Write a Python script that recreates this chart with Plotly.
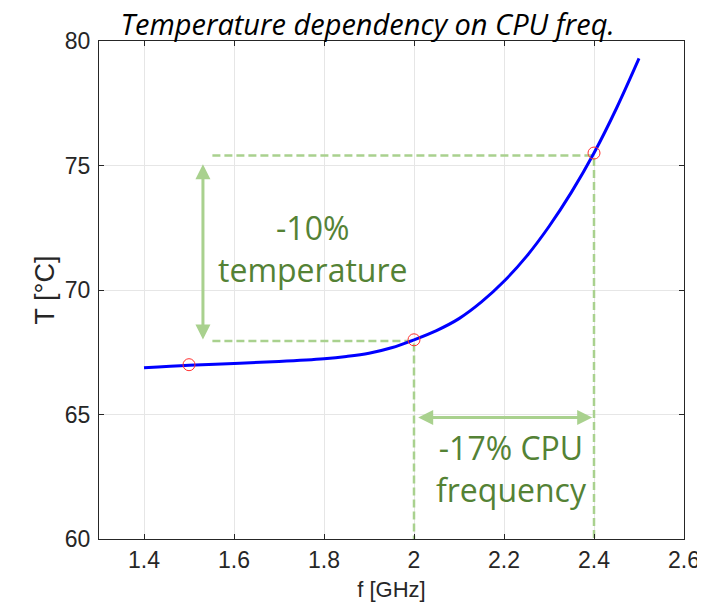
import plotly.graph_objects as go

# Curve data
freq_ghz = [1.4, 1.5, 1.6, 1.7, 1.8, 1.85, 1.9, 1.95, 2.0, 2.05, 2.1, 2.15, 2.2, 2.25, 2.3, 2.35, 2.4, 2.45, 2.5]
temp_c = [66.88, 66.98, 67.05, 67.13, 67.24, 67.33, 67.46, 67.68, 68.0, 68.37, 68.85, 69.52, 70.35, 71.35, 72.55, 73.93, 75.5, 77.3, 79.3]

# Marked operating points
mark_f = [1.5, 2.0, 2.4]
mark_t = [67.0, 68.0, 75.5]

# Annotation guide values
hi_t = 75.4
lo_t = 67.95
guide_start_f = 1.552
varrow_f = 1.531
varrow_top = 75.05
varrow_bot = 67.95
harrow_t = 64.88
harrow_left = 2.006
harrow_right = 2.396

x_ticks = [1.4, 1.6, 1.8, 2.0, 2.2, 2.4, 2.6]
x_ticklabels = ["1.4", "1.6", "1.8", "2", "2.2", "2.4", "2.6"]
y_ticks = [60, 65, 70, 75, 80]

GREEN_LINE = "#a9d18e"
GREEN_TEXT = "#548235"
AX = "#262626"

fig = go.Figure()

# dashed guide lines
fig.add_trace(go.Scatter(x=[guide_start_f, mark_f[2], mark_f[2]], y=[hi_t, hi_t, 60],
                         mode="lines", line=dict(color=GREEN_LINE, width=2.5, dash="8px,4px"),
                         hoverinfo="skip", showlegend=False))
fig.add_trace(go.Scatter(x=[guide_start_f, mark_f[1], mark_f[1]], y=[lo_t, lo_t, 60],
                         mode="lines", line=dict(color=GREEN_LINE, width=2.5, dash="8px,4px"),
                         hoverinfo="skip", showlegend=False))

fig.add_trace(go.Scatter(x=freq_ghz, y=temp_c, mode="lines",
                         line=dict(color="#0000ff", width=3, shape="spline", smoothing=1.0),
                         showlegend=False))
fig.add_trace(go.Scatter(x=mark_f, y=mark_t, mode="markers",
                         marker=dict(symbol="circle-open", size=12, color="#ff3030",
                                     line=dict(width=1, color="#ff3030")),
                         showlegend=False))

annotations = []
# double arrows
annotations.append(dict(x=varrow_f, y=varrow_top, ax=varrow_f, ay=varrow_bot,
                        xref="x", yref="y", axref="x", ayref="y", text="",
                        showarrow=True, arrowside="end+start", arrowhead=2, arrowsize=1.0,
                        arrowwidth=3, arrowcolor=GREEN_LINE))
annotations.append(dict(x=harrow_right, y=harrow_t, ax=harrow_left, ay=harrow_t,
                        xref="x", yref="y", axref="x", ayref="y", text="",
                        showarrow=True, arrowside="end+start", arrowhead=2, arrowsize=1.0,
                        arrowwidth=3, arrowcolor=GREEN_LINE))

text_font = dict(family="Open Sans, sans-serif", size=32, color=GREEN_TEXT)
for txt, fx, ty in [("-10%<br>temperature", 1.775, 71.65),
                    ("-17% CPU<br>frequency", 2.216, 62.84)]:
    annotations.append(dict(x=fx, y=ty, xref="x", yref="y", text=txt, showarrow=False,
                            font=text_font, xanchor="center", yanchor="middle", align="center"))

# the page body adds an 8px offset, so the figure is 8px smaller and margins shifted
fig.update_layout(
    width=697, height=598,
    margin=dict(l=91, r=21, t=33, b=67, autoexpand=False),
    paper_bgcolor="white", plot_bgcolor="white",
    title=dict(text="<i>Temperature dependency on CPU freq.</i>",
               font=dict(family="Open Sans, sans-serif", size=29, color="black"),
               x=0.516, xanchor="center", xref="container", y=0.9716, yanchor="middle",
               yref="container", automargin=False),
    annotations=annotations,
    font=dict(family="Liberation Sans, Arial, sans-serif", color=AX),
)

fig.update_xaxes(range=[1.3, 2.6], tickvals=x_ticks, ticktext=x_ticklabels,
                 showgrid=True, gridcolor="#e6e6e6", gridwidth=1,
                 showline=True, linecolor=AX, linewidth=1, mirror="ticks",
                 ticks="inside", ticklen=5, tickcolor=AX, automargin=False,
                 tickfont=dict(size=23, color=AX), zeroline=False,
                 title=dict(text="f [GHz]", font=dict(size=22, color=AX), standoff=10))
fig.update_yaxes(range=[60, 80], tickvals=y_ticks,
                 showgrid=True, gridcolor="#e6e6e6", gridwidth=1,
                 showline=True, linecolor=AX, linewidth=1, mirror="ticks",
                 ticks="inside", ticklen=5, tickcolor=AX, automargin=False,
                 ticklabelstandoff=3,
                 tickfont=dict(size=23, color=AX), zeroline=False,
                 title=dict(text="T [°C]", font=dict(size=27, color=AX), standoff=2))

fig.write_html("out.html")
